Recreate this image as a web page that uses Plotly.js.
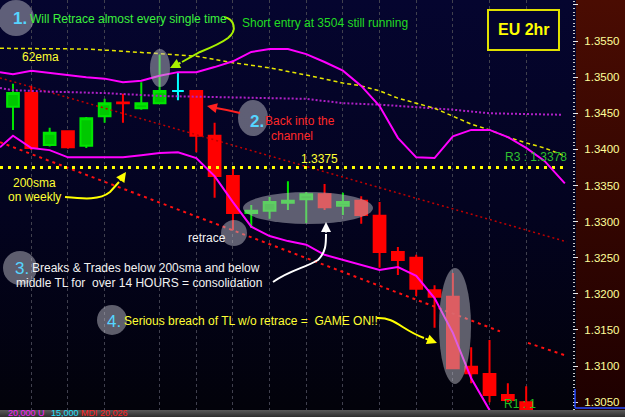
<!DOCTYPE html>
<html><head><meta charset="utf-8">
<script src="https://cdn.plot.ly/plotly-3.0.1.min.js"></script>
<style>html,body{margin:0;padding:0;background:#000;overflow:hidden}#chart{width:625px;height:417px}</style>
</head><body><div id="chart"></div>
<script>
// ---- candle data (EUR/USD, 2 hour bars) ----
const bars  = [0,1,2,3,4,5,6,7,8,9,10,11,12,13,14,15,16,17,18,19,20,21,22,23,24,25,26,27,28];
const open  = [1.3459,1.3478,1.3406,1.3425,1.3405,1.3446,1.3465,1.3457,1.3464,1.3481,1.3481,1.3419,1.3363,1.3312,1.3315,1.3326,1.3331,1.3338,1.3322,1.3329,1.3308,1.3258,1.3250,1.3205,1.3196,1.3099,1.3089,1.3060,1.3050];
const high  = [1.3491,1.3488,1.3430,1.3426,1.3445,1.3470,1.3477,1.3493,1.3531,1.3506,1.3482,1.3437,1.3373,1.3323,1.3334,1.3356,1.3341,1.3352,1.3340,1.3335,1.3327,1.3265,1.3254,1.3212,1.3229,1.3126,1.3136,1.3076,1.3072];
const low   = [1.3427,1.3399,1.3404,1.3401,1.3402,1.3437,1.3437,1.3455,1.3463,1.3468,1.3396,1.3333,1.3288,1.3291,1.3304,1.3316,1.3298,1.3316,1.3309,1.3297,1.3236,1.3226,1.3197,1.3153,1.3096,1.3076,1.3050,1.3050,1.3036];
const close = [1.3478,1.3402,1.3423,1.3403,1.3443,1.3464,1.3464,1.3464,1.3481,1.3481,1.3419,1.3363,1.3312,1.3315,1.3327,1.3329,1.3338,1.3320,1.3327,1.3309,1.3258,1.3247,1.3207,1.3196,1.3097,1.3090,1.3060,1.3053,1.3039];
const cyanBars = [9];

// ---- indicator lines ----
const upperX = [-0.71,0,1,2,3,4,5,6,7,8,9,10,11,12,13,14,15,16,17,18,19,20,21,22,23,24,25,26,27,28,29,30.11];
const upperY = [1.3507,1.3504,1.3509,1.3506,1.3502,1.3500,1.3498,1.3493,1.3495,1.3502,1.3507,1.3507,1.3514,1.3522,1.3535,1.3539,1.3539,1.3532,1.3521,1.3509,1.3488,1.3460,1.3416,1.3389,1.3388,1.3418,1.3427,1.3427,1.3417,1.3402,1.3384,1.3353];
const lowerX = [-0.71,0,1,2,3,4,5,6,7,8,9,10,11,12,13,14,15,16,17,18,19,20,21,22,23,24,25,26,26.5];
const lowerY = [1.3403,1.3419,1.3402,1.3399,1.3389,1.3389,1.3389,1.3389,1.3392,1.3395,1.3396,1.3388,1.3363,1.3327,1.3293,1.3280,1.3273,1.3268,1.3254,1.3247,1.3240,1.3233,1.3237,1.3225,1.3194,1.3146,1.3083,1.3039,1.3022];
const midX = [-0.71,0,2,5,8,10,13,16,17,18,20,22,24,26,28,29.9];
const midY = [1.3485,1.3482,1.3480,1.3478,1.3474,1.3473,1.3471,1.3470,1.3467,1.3464,1.3462,1.3459,1.3455,1.3450,1.3449,1.3448];
const emaX = [-0.71,0,2,4,6,8,10,12,14,16,18,19,20,21,22,23,24,25,26,27,28,29,30.0];
const emaY = [1.3540,1.3540,1.3540,1.3539,1.3536,1.3532,1.3529,1.3520,1.3513,1.3503,1.3492,1.3488,1.3481,1.3471,1.3464,1.3457,1.3446,1.3435,1.3427,1.3417,1.3409,1.3402,1.3392];
const smaWeekly = 1.3375;
const smaX = [-0.71, 30.2];
const tlUpperX = [-0.71, 30.22];
const tlUpperY = [1.3499, 1.3272];
const tlMidX1 = [-0.71, 26.57];
const tlMidY1 = [1.3410, 1.3148];
const tlMidX2 = [28.1, 30.22];
const tlMidY2 = [1.3132, 1.3114];
const gridBars = [1,3,5,8,10,12,14,16,18,20,22,24,26,28];
const yTicks = [1.3050,1.3100,1.3150,1.3200,1.3250,1.3300,1.3350,1.3400,1.3450,1.3500,1.3550,1.3600];

// ---- helpers for decorations (pixel -> paper) ----
const PW = 572, PH = 410;
const X = px => px / PW, Y = py => 1 - py / PH;
const FONT = 'Liberation Sans, Arial, sans-serif';
function P(tokens){ return tokens.map(t => typeof t === 'string' ? t : (X(t[0]).toFixed(5)+','+Y(t[1]).toFixed(5))).join(' '); }
function ell(cx, cy, rx, ry, fill){
  return {type:'circle', xref:'paper', yref:'paper', x0:X(cx-rx), x1:X(cx+rx), y0:Y(cy+ry), y1:Y(cy-ry), fillcolor:fill, line:{width:0}, layer:'above'};
}
function curve(tokens, color){
  return {type:'path', xref:'paper', yref:'paper', path:P(tokens), line:{color:color, width:2}, fillcolor:'rgba(0,0,0,0)', layer:'above'};
}
function head(tx, ty, ax, ay, color){
  return {xref:'paper', yref:'paper', x:X(tx), y:Y(ty), ax:ax, ay:ay, axref:'pixel', ayref:'pixel', text:'', showarrow:true, arrowhead:2, arrowsize:1, arrowwidth:2, arrowcolor:color, standoff:0};
}
function txt(px, py, text, color, size, anchor, bold){
  return {xref:'paper', yref:'paper', x:X(px), y:Y(py), xanchor:anchor||'left', yanchor:'middle', text: bold ? '<b>'+text+'</b>' : text, showarrow:false, font:{family:FONT, size:size||12, color:color}, borderpad:0};
}

function makeBg(){
  const c = document.createElement('canvas'); c.width = 625; c.height = 417;
  const g = c.getContext('2d');
  let gr = g.createLinearGradient(0,0,0,410);
  gr.addColorStop(0,'#05052f'); gr.addColorStop(0.5,'#030320'); gr.addColorStop(1,'#02020a');
  g.fillStyle = gr; g.fillRect(0,0,576,410);
  gr = g.createLinearGradient(0,0,0,410);
  gr.addColorStop(0,'#4a0c02'); gr.addColorStop(1,'#1e0000');
  g.fillStyle = gr; g.fillRect(576,0,49,410);
  gr = g.createLinearGradient(0,410,0,417);
  gr.addColorStop(0,'#5a5a5a'); gr.addColorStop(1,'#2e2e2e');
  g.fillStyle = gr; g.fillRect(0,410,625,7);
  return c.toDataURL();
}

const mainIdx = bars.map((b,i)=>i).filter(i => !cyanBars.includes(bars[i]));
const cyanIdx = bars.map((b,i)=>i).filter(i => cyanBars.includes(bars[i]));
const pick = (arr, idx) => idx.map(i => arr[i]);

const traces = [
  {type:'candlestick', x:pick(bars,mainIdx), open:pick(open,mainIdx), high:pick(high,mainIdx), low:pick(low,mainIdx), close:pick(close,mainIdx),
   increasing:{line:{color:'#00e600', width:2}, fillcolor:'#00c800'},
   decreasing:{line:{color:'#ff0000', width:2}, fillcolor:'#ff0000'},
   line:{width:2}, whiskerwidth:0, hoverinfo:'skip', showlegend:false},
  {type:'candlestick', x:pick(bars,cyanIdx), open:pick(open,cyanIdx), high:pick(high,cyanIdx), low:pick(low,cyanIdx), close:pick(close,cyanIdx),
   increasing:{line:{color:'#00ffff', width:2}, fillcolor:'#00ffff'},
   decreasing:{line:{color:'#00ffff', width:2}, fillcolor:'#00ffff'},
   line:{width:2}, whiskerwidth:0, hoverinfo:'skip', showlegend:false},
  {type:'scatter', mode:'lines', x:tlUpperX, y:tlUpperY, line:{color:'#c00000', width:1.5, dash:'2px,3px'}, hoverinfo:'skip'},
  {type:'scatter', mode:'lines', x:tlMidX1, y:tlMidY1, line:{color:'#ff1010', width:2, dash:'3px,4px'}, hoverinfo:'skip'},
  {type:'scatter', mode:'lines', x:tlMidX2, y:tlMidY2, line:{color:'#ff1010', width:2, dash:'3px,4px'}, hoverinfo:'skip'},
  {type:'scatter', mode:'lines', x:midX, y:midY, line:{color:'#b020c8', width:2, dash:'2px,2px'}, hoverinfo:'skip'},
  {type:'scatter', mode:'lines', x:emaX, y:emaY, line:{color:'#e6e600', width:1.5, dash:'4px,3px'}, hoverinfo:'skip'},
  {type:'scatter', mode:'lines', x:smaX, y:smaX.map(()=>smaWeekly), line:{color:'#ffff00', width:3, dash:'3px,5px'}, hoverinfo:'skip'},
  {type:'scatter', mode:'lines', x:upperX, y:upperY, line:{color:'#ff00ff', width:2}, hoverinfo:'skip'},
  {type:'scatter', mode:'lines', x:lowerX, y:lowerY, line:{color:'#ff00ff', width:2}, hoverinfo:'skip'}
];

const GRAY = 'rgba(185,185,195,0.5)';
const shapes = [
  ell(16,18,18,18,GRAY),
  ell(253,118,15,18,GRAY),
  ell(20,268,17,17,GRAY),
  ell(112,320,15,15,GRAY),
  ell(160,68,10,19,GRAY),
  ell(308,208,65,16,GRAY),
  ell(234,233,13,13,GRAY),
  ell(455,326,16,58,GRAY),
  {type:'rect', xref:'paper', yref:'paper', x0:X(488), x1:X(559), y0:Y(50), y1:Y(10), line:{color:'#e0e000', width:2}, fillcolor:'#04042c', layer:'above'},
  curve(['M',[224,17],'C',[234,19],[238,30],[228,38],'C',[220,44],[210,48],[200,52],'L',[182,62]], '#a8f000'),
  curve(['M',[240,113],'Q',[228,110],[216,108]], '#ff2020'),
  curve(['M',[65,197],'C',[85,199],[100,200],[110,192],'L',[119,182]], '#ffff00'),
  curve(['M',[273,282],'C',[290,270],[305,268],[318,260],'C',[326,252],[326,244],[326,234]], '#ffffff'),
  curve(['M',[377,318],'C',[395,317],[402,330],[424,338]], '#ffff00'),
  {type:'line', xref:'paper', yref:'paper', x0:X(575), x1:X(575), y0:Y(389), y1:Y(408), line:{color:'#2a4cff', width:1.5}, layer:'above'},
  {type:'line', xref:'paper', yref:'paper', x0:X(575), x1:X(625), y0:Y(408), y1:Y(408), line:{color:'#2a4cff', width:1.5}, layer:'above'}
];

const annotations = [
  txt(20,18,'1.','#55d5ff',17,'center',true),
  txt(29,19,'Will Retrace almost every single time','#3cf03c',12),
  txt(241,23,'Short entry at 3504 still running','#22dd22',12),
  txt(524,30,'EU 2hr','#ffff00',16,'center',true),
  txt(40,57,'62ema','#ffff33',12,'center'),
  txt(257,121,'2.','#55d5ff',17,'center',true),
  txt(300,121,'Back into the','#ff2828',12,'center'),
  txt(292,136,'channel','#ff2828',12,'center'),
  txt(319,159,'1.3375','#ffff33',12,'center'),
  txt(536,157,'R3 : 1.3378','#2fc02f',12,'center'),
  txt(34,183,'200sma','#ffff33',12,'center'),
  txt(34,197,'on weekly','#ffff33',12,'center'),
  txt(207,238,'retrace','#f2f2f2',12,'center'),
  txt(22,268,'3.','#55d5ff',17,'center',false),
  txt(31,268,'Breaks &amp; Trades below 200sma and below','#f2f2f2',12),
  txt(15,283,'middle TL for\u00a0 over 14 HOURS = consolidation','#f2f2f2',12),
  txt(114,321,'4.','#55d5ff',17,'center',false),
  txt(123,321,'Serious breach of TL w/o retrace =\u00a0 GAME ON!!','#ffff33',12),
  txt(520,404,'R1 : 1','#20c020',12,'center'),
  txt(7,412.5,'20,000 U','#ff20ff',9),
  txt(50,412.5,'15,000','#20e0ff',9),
  txt(80,412.5,'MDI 20,026','#ff2020',9),
  head(170,68,12,-6,'#a8f000'),
  head(207,106,9,2,'#ff2020'),
  head(126,172,-7,10,'#ffff00'),
  head(326,222,0,12,'#ffffff'),
  head(437,343,-13,-5,'#ffff00')
];

const layout = {
  width:625, height:417,
  margin:{l:0, r:53, t:0, b:7, pad:0},
  paper_bgcolor:'#02020a', plot_bgcolor:'rgba(0,0,0,0)',
  showlegend:false, hovermode:false, dragmode:false,
  boxgap:0.36, boxgroupgap:0,
  images:[{source:makeBg(), xref:'paper', yref:'paper', x:0, y:1, sizex:625/PW, sizey:417/PH, xanchor:'left', yanchor:'top', sizing:'stretch', layer:'below'}],
  xaxis:{range:[-0.709, 30.5], tickmode:'array', tickvals:gridBars, showticklabels:false, ticks:'', showgrid:true, gridcolor:'#40404e', griddash:'dot', gridwidth:1, zeroline:false, showline:false, rangeslider:{visible:false}, fixedrange:true},
  yaxis:{range:[1.30391, 1.36069], side:'right', tickmode:'array', tickvals:yTicks, ticktext:yTicks.map(v=>v.toFixed(4)),
         ticks:'outside', ticklen:5, tickwidth:1, tickcolor:'#e8e8e8', ticklabelstandoff:4,
         tickfont:{family:FONT, size:11.5, color:'#ffff99'}, showgrid:false, zeroline:false, showline:false, fixedrange:true,
         minor:{tickmode:'linear', tick0:1.3, dtick:0.0005, ticks:'outside', ticklen:2, tickcolor:'#cccccc', showgrid:false}},
  shapes:shapes,
  annotations:annotations
};

Plotly.newPlot('chart', traces, layout, {staticPlot:true, displayModeBar:false});
</script>
</body></html>
